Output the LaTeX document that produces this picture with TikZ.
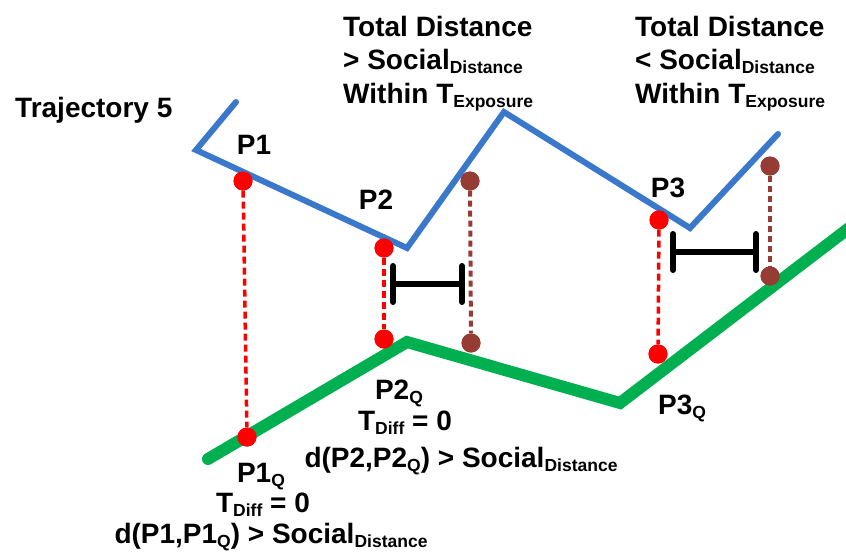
\documentclass[tikz,border=0pt]{standalone}
\usepackage{fontspec}
\setmainfont{Liberation Sans}
\usetikzlibrary{arrows.meta}

\definecolor{trajBlue}{RGB}{58,120,204}
\definecolor{trajGreen}{RGB}{0,176,80}
\definecolor{dotBrown}{RGB}{150,60,52}

% lowered small text (subscripts)
\newcommand{\lowtxt}[1]{\raisebox{-4pt}{\fontsize{17.5}{17.5}\selectfont #1}}

\begin{document}
\begin{tikzpicture}[
  x=1pt, y=-1pt,
  % Trajectories
  trajA/.style={draw=trajBlue, line width=6pt, line cap=round, line join=miter},
  trajB/.style={draw=trajGreen, line width=12pt, line cap=round, line join=miter},
  % Sample points and links
  redDot/.style={circle, fill=red, inner sep=0pt, minimum size=19pt},
  brownDot/.style={circle, fill=dotBrown, inner sep=0pt, minimum size=19pt},
  redLink/.style={draw=red, line width=3.5pt, dash pattern=on 7pt off 4pt},
  brownLink/.style={draw=dotBrown, line width=4pt, dash pattern=on 6pt off 4pt},
  gapBar/.style={line width=6pt, line cap=round, {Bar[width=36pt,round]}-{Bar[width=36pt,round]}},
  % Labels
  lbl/.style={font=\fontsize{28}{33.5}\selectfont\bfseries, inner sep=0pt}
  ]

  \clip (0,0) rectangle (846,552);

  % --- Trajectory 5 (blue) ---
  \coordinate (b0) at (236,102);
  \coordinate (b1) at (196,150);
  \coordinate (b2) at (407,248);
  \coordinate (b3) at (504,112);
  \coordinate (b4) at (690,228);
  \coordinate (b5) at (778,134);
  \draw[trajA] (b0) -- (b1) -- (b2) -- (b3) -- (b4) -- (b5);

  % --- Query trajectory (green) ---
  \coordinate (g0) at (208,459);
  \coordinate (g1) at (407,342);
  \coordinate (g2) at (620,403);
  \coordinate (g3) at (870,212);
  \draw[trajB] (g0) -- (g1) -- (g2) -- (g3);

  % --- Points and their matches ---
  \node[redDot] (P1) at (243,181) {};
  \node[redDot] (P1Q) at (247,437) {};
  \node[redDot] (P2) at (384,248) {};
  \node[redDot] (P2Q) at (384,339) {};
  \node[redDot] (P3) at (659,220) {};
  \node[redDot] (P3Q) at (658,354) {};
  \node[brownDot] (E2) at (470,181) {};
  \node[brownDot] (E2Q) at (471,343) {};
  \node[brownDot] (E3) at (770,166) {};
  \node[brownDot] (E3Q) at (770,276) {};

  \draw[redLink] (P1) -- (P1Q);
  \draw[redLink] (P2) -- (P2Q);
  \draw[redLink] (P3) -- (P3Q);
  \draw[brownLink] (E2) -- (E2Q);
  \draw[brownLink] (E3) -- (E3Q);
  % redraw dots over the links
  \foreach \p in {P1,P1Q,P2,P2Q,P3,P3Q}
    \fill[red] (\p) circle (9.5pt);
  \foreach \p in {E2,E2Q,E3,E3Q}
    \fill[dotBrown] (\p) circle (9.5pt);

  % --- Exposure windows ---
  \coordinate (w2a) at (390,284);
  \coordinate (w2b) at (465,284);
  \coordinate (w3a) at (670,252);
  \coordinate (w3b) at (759,252);
  \draw[gapBar] (w2a) -- (w2b);
  \draw[gapBar] (w3a) -- (w3b);

  % --- Labels ---
  \node[lbl, anchor=base west] (traj) at (15,117) {Trajectory 5};
  \node[lbl, anchor=base] (tP1) at (254,154) {P1};
  \node[lbl, anchor=base] (tP2) at (376,209) {P2};
  \node[lbl, anchor=base] (tP3) at (668,197) {P3};

  \node[lbl, anchor=north west, align=left] (far) at (343,16)
    {Total Distance\\> Social\lowtxt{Distance}\\Within T\lowtxt{Exposure}};
  \node[lbl, anchor=north west, align=left] (near) at (635,16)
    {Total Distance\\< Social\lowtxt{Distance}\\Within T\lowtxt{Exposure}};

  \node[lbl, anchor=base] (tP2Q) at (399,399) {P2\lowtxt{Q}};
  \node[lbl, anchor=base] (tD2) at (405,430) {T\lowtxt{Diff} = 0};
  \node[lbl, anchor=base] (dist2) at (461,467) {d(P2,P2\lowtxt{Q}) > Social\lowtxt{Distance}};

  \node[lbl, anchor=base] (tP1Q) at (261,482) {P1\lowtxt{Q}};
  \node[lbl, anchor=base] (tD1) at (263,512) {T\lowtxt{Diff} = 0};
  \node[lbl, anchor=base] (dist1) at (271,543) {d(P1,P1\lowtxt{Q}) > Social\lowtxt{Distance}};

  \node[lbl, anchor=base] (tP3Q) at (682,414) {P3\lowtxt{Q}};

\end{tikzpicture}
\end{document}
